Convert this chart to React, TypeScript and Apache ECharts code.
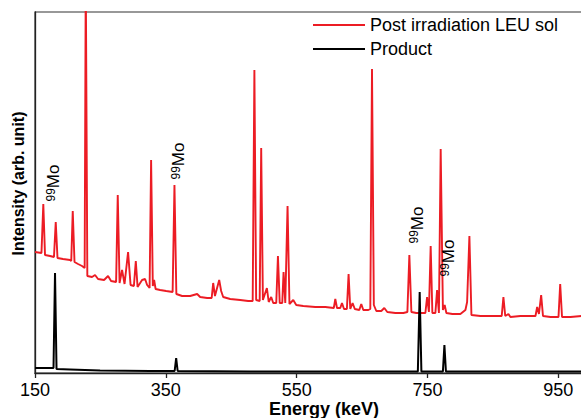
import React, { useEffect, useRef } from "react";
import * as echarts from "echarts";

// Post irradiation LEU solution spectrum (energy keV, intensity arb.)
const redEnergy = [
  150, 159.9, 162.7, 165.3, 173, 179, 181.7, 184.4, 192.8, 203.6, 205.4, 207.7, 210.4, 215.8, 221.9, 225.9,
  227.6, 230, 237.2, 241.8, 246.4, 255.6, 261.7, 266.3, 274, 276.5, 279.3, 283.1, 286.9, 292.3, 296.1, 301.2,
  304.1, 306.8, 313.7, 318.3, 321.4, 325.2, 327.5, 330.1, 332.1, 334.4, 341.3, 350.5, 360.4, 363.2, 366.1,
  374.9, 387.2, 397.9, 402.5, 413.2, 420.1, 422.4, 425.1, 431.6, 434.6, 437.7, 448.4, 463.7, 475.9, 482.8,
  485.4, 488.1, 493.5, 495.8, 498.4, 504.5, 507.3, 511.1, 514.2, 518.8, 521.4, 524.1, 528, 530, 532.6, 536.1,
  539, 544.8, 549.4, 560.1, 578.5, 593.8, 606.8, 609.1, 611.7, 616.7, 619.3, 622.4, 626.8, 629.4, 632, 635.5,
  638.9, 645.8, 648.8, 651.9, 659.6, 662.6, 665.2, 668, 671.8, 679.4, 684, 688.6, 700.9, 713.1, 719.3, 722.3,
  725.4, 733, 740.7, 746.8, 749.4, 752.2, 754.9, 757.5, 762.1, 764.7, 767.5, 770.2, 773.6, 776.3, 778.9, 788.1,
  800.3, 808, 810.6, 814.1, 817.2, 830.9, 846.2, 863.5, 866.1, 868.9, 873.8, 876.8, 892.1, 907.4, 915.1, 917.7,
  920.4, 923.8, 926.6, 938.1, 950.3, 952.9, 955.7, 968.7, 985.5, 1000,
];
const redIntensity = [
  121, 120, 169, 118, 117, 116, 151, 115, 114, 113, 112, 162, 111, 109, 107, 105,
  400, 97, 96, 98, 94, 93, 97, 92, 91, 178, 90, 103, 89, 121, 88, 87,
  112, 86, 93, 94, 88, 85, 213, 87, 93, 84, 83, 82, 81, 188, 79,
  77, 77, 79, 76, 75, 75, 90, 77, 93, 82, 76, 74, 73, 72, 72,
  303, 73, 72, 225, 73, 85, 71, 76, 70, 70, 117, 70, 70, 101, 70, 167,
  69, 73, 68, 67, 66, 66, 65, 74, 65, 65, 70, 64, 64, 99, 64, 70,
  64, 63, 69, 63, 63, 64, 304, 68, 62, 62, 65, 61, 60, 60, 61, 118,
  61, 60, 60, 60, 76, 61, 127, 60, 60, 83, 60, 224, 63, 68, 60, 59,
  59, 63, 71, 137, 58, 57, 57, 57, 76, 57, 59, 56, 57, 57, 57, 66,
  59, 78, 57, 56, 56, 89, 56, 56, 57, 57,
];

// Product spectrum
const blackEnergy = [
  150, 178.3, 180.6, 182.9, 203.6, 249.5, 326, 363.5, 365.8, 368.1, 479, 632, 735.3, 738.1, 740.7,
  773.6, 775.9, 778.2, 985.5, 1000,
];
const blackIntensity = [
  5, 5, 100, 4, 3.5, 2.5, 2, 2, 15, 2, 1.5, 1.5, 1.5, 81, 1.5,
  1.5, 28, 1.5, 1.5, 1.5,
];

// 99Mo annotations (label centre in data coordinates)
const annEnergy = [179, 370, 734.5, 782];
const annIntensity = [190, 212, 148, 115];

const tickLabels = ["150", "350", "550", "750", "950"];
const seriesNames = ["Post irradiation LEU sol", "Product"];

const FONT = "'Liberation Sans', Arial, sans-serif";

export default function App() {
  const ref = useRef<HTMLDivElement>(null);
  useEffect(() => {
    if (!ref.current) return;
    const chart = echarts.init(ref.current, undefined, { renderer: "svg" });
    const red = redEnergy.map((e, i) => [e, redIntensity[i]]);
    const black = blackEnergy.map((e, i) => [e, blackIntensity[i]]);
    chart.setOption({
      animation: false,
      textStyle: { fontFamily: FONT },
      grid: {
        left: 35,
        top: 12,
        bottom: 45,
        right: 0,
        outerBoundsMode: "none",
        containLabel: false,
        show: true,
        borderColor: "#333",
        borderWidth: 1.2,
      },
      legend: {
        orient: "vertical",
        left: 313,
        top: 16,
        padding: 0,
        icon: "rect",
        itemWidth: 52,
        itemHeight: 2,
        itemGap: 6,
        textStyle: { fontSize: 18, color: "#000", fontFamily: FONT, lineHeight: 18 },
        data: seriesNames,
      },
      xAxis: [
        {
          type: "value",
          min: 150,
          max: 1000,
          show: false,
        },
        {
          type: "value",
          gridIndex: 0,
          position: "bottom",
          min: 0,
          max: 850,
          interval: 200,
          axisLine: { show: true, lineStyle: { color: "#222", width: 1.3 } },
          axisTick: { show: true, inside: false, length: 5, lineStyle: { color: "#222", width: 1.3 } },
          axisLabel: {
            fontSize: 18,
            lineHeight: 14,
            color: "#000",
            margin: 10,
            fontFamily: FONT,
            formatter: (v: number) => (v % 200 === 0 ? tickLabels[v / 200] ?? "" : ""),
          },
          splitLine: { show: false },
          name: "Energy (keV)",
          nameLocation: "middle",
          nameGap: 30,
          nameMoveOverlap: false,
          nameTextStyle: {
            fontSize: 18,
            lineHeight: 12,
            fontWeight: "bold",
            color: "#000",
            fontFamily: FONT,
            padding: [0, 0, 0, 22],
          },
        },
      ],
      yAxis: {
        type: "value",
        min: 0,
        max: 361,
        axisLine: { show: true, lineStyle: { color: "#222", width: 1.3 } },
        axisTick: { show: false },
        axisLabel: { show: false },
        splitLine: { show: false },
        name: "Intensity (arb. unit)",
        nameLocation: "middle",
        nameGap: 9,
        nameMoveOverlap: false,
        nameTextStyle: {
          fontSize: 16,
          fontWeight: "bold",
          color: "#000",
          fontFamily: FONT,
          padding: [0, 0, 0, 18],
        },
      },
      series: [
        {
          name: seriesNames[0],
          type: "line",
          xAxisIndex: 0,
          data: red,
          symbol: "none",
          clip: true,
          lineStyle: { color: "#ec1c24", width: 1.9 },
          itemStyle: { color: "#ec1c24" },
          markPoint: {
            symbol: "circle",
            symbolSize: 0,
            silent: true,
            label: {
              show: true,
              position: "inside",
              rotate: 90,
              formatter: "{s|99}{m|Mo}",
              rich: {
                s: { fontSize: 12, color: "#000", fontFamily: FONT, verticalAlign: "top", lineHeight: 18 },
                m: { fontSize: 17, color: "#000", fontFamily: FONT, lineHeight: 18 },
              },
            },
            data: annEnergy.map((e, i) => ({ coord: [e, annIntensity[i]], value: "" })),
          },
        },
        {
          name: seriesNames[1],
          type: "line",
          xAxisIndex: 0,
          data: black,
          symbol: "none",
          clip: true,
          lineStyle: { color: "#000", width: 2 },
          itemStyle: { color: "#000" },
        },
      ],
    });
    return () => chart.dispose();
  }, []);
  return (
    <div
      ref={ref}
      style={{ position: "fixed", left: 0, top: 0, width: 591, height: 418, background: "#fff" }}
    />
  );
}
